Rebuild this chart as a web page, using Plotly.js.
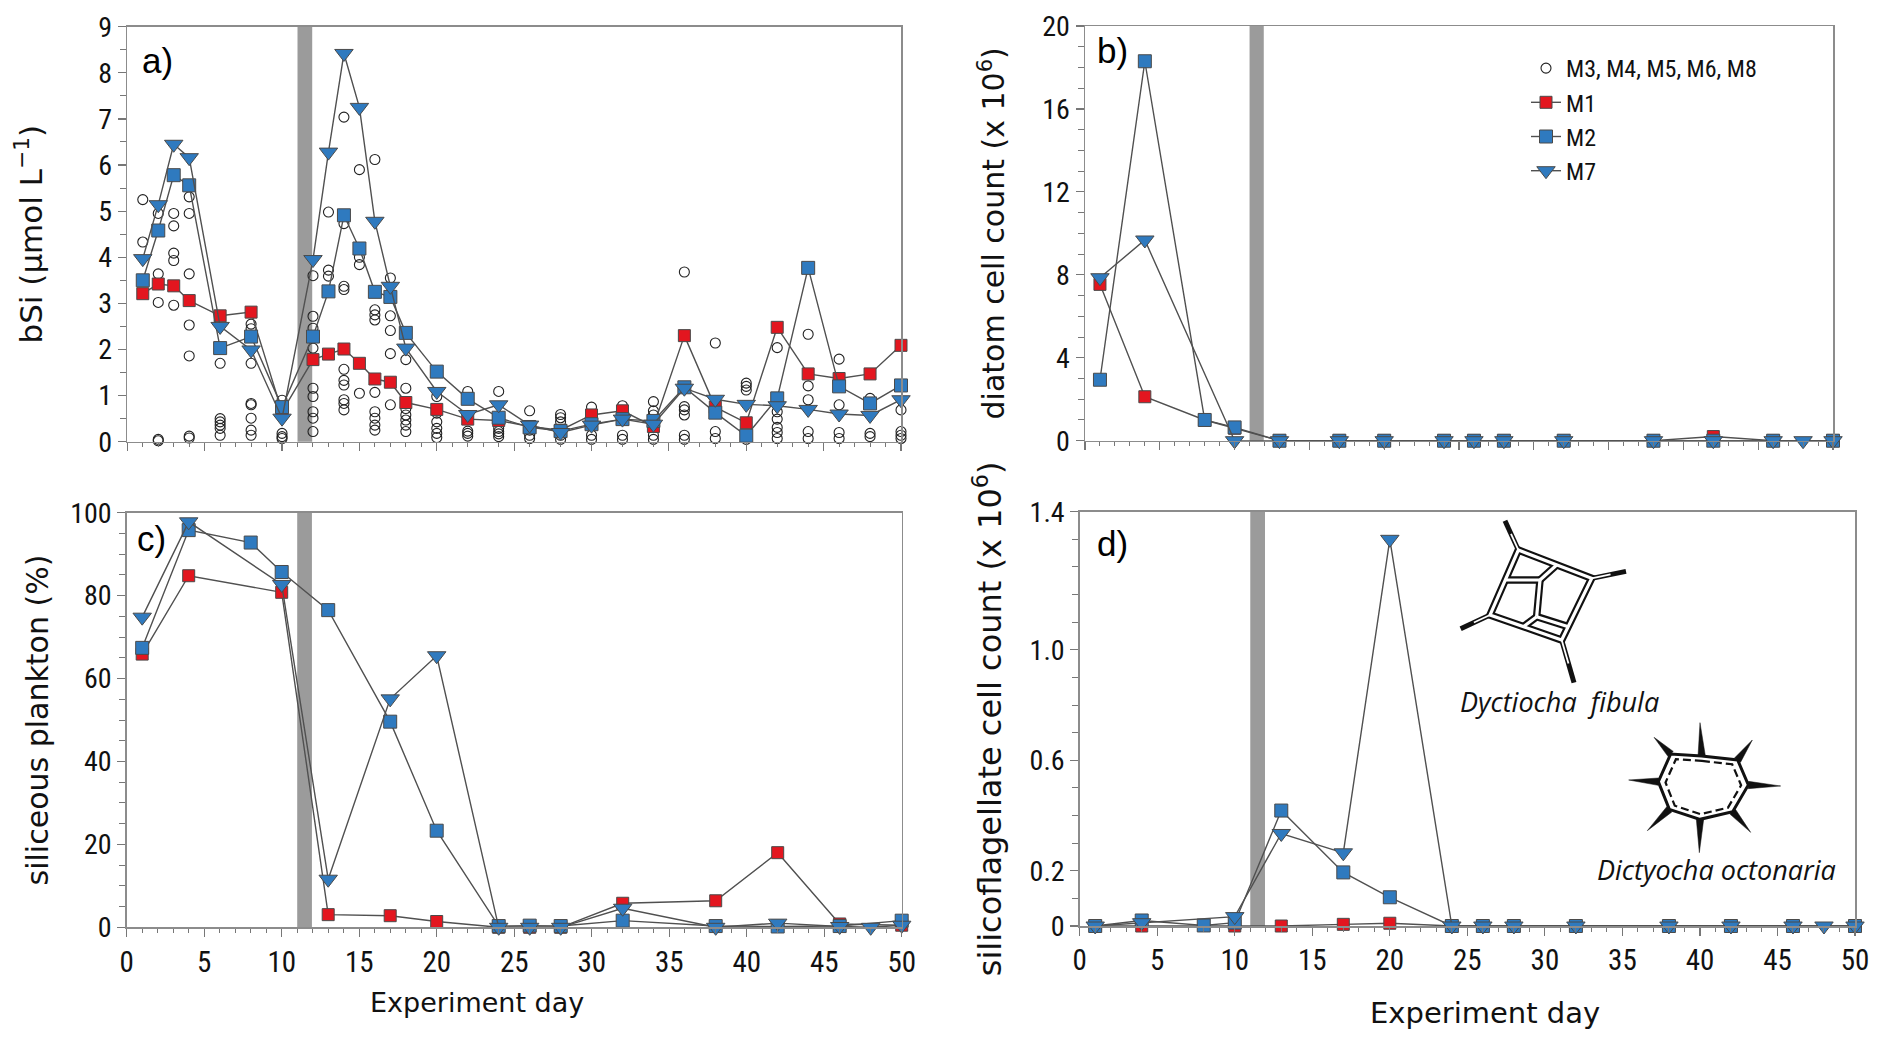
<!DOCTYPE html>
<html><head><meta charset="utf-8">
<script src="https://cdn.plot.ly/plotly-3.0.1.min.js"></script>
<style>html,body{margin:0;padding:0;background:#fff;} #chart{width:1892px;height:1052px;}</style>
</head><body><div id="chart"></div>
<script>
// ---------------- DATA ----------------
// Panel a) bSi (umol L-1)
const daysA = [1,2,3,4,6,8,10,12,13,14,15,16,17,18,20,22,24,26,28,30,32,34,36,38,40,42,44,46,48,50];
const bsiM1 = [3.21,3.42,3.38,3.06,2.73,2.81,0.65,1.78,1.90,2.01,1.70,1.36,1.29,0.85,0.70,0.49,0.46,0.33,0.25,0.58,0.67,0.33,2.30,0.75,0.41,2.48,1.47,1.37,1.47,2.09];
const bsiM2 = [3.50,4.58,5.78,5.56,2.03,2.28,0.75,2.28,3.26,4.91,4.19,3.25,3.14,2.36,1.52,0.93,0.52,0.31,0.23,0.38,0.49,0.45,1.18,0.63,0.13,0.94,3.77,1.20,0.83,1.22];
const bsiM7 = [3.97,5.14,6.45,6.16,2.50,1.99,0.51,3.95,6.28,8.42,7.25,4.78,3.37,2.03,1.09,0.59,0.80,0.36,0.20,0.36,0.49,0.38,1.16,0.92,0.81,0.78,0.70,0.60,0.57,0.91];
// other mesocosms (M3, M4, M5, M6, M8), open circles
const otherDays = [1,2,3,4,6,8,10,12,13,14,15,16,17,18,20,22,24,26,28,30,32,34,36,38,40,42,44,46,48,50];
const otherVals = [
  [5.25,4.33],
  [4.95,3.64,3.02,0.05,0.02],
  [4.95,4.68,4.09,3.93,2.96],
  [5.31,4.95,3.64,2.53,1.86,0.12,0.08],
  [1.70,0.50,0.43,0.36,0.29,0.14],
  [2.55,2.45,1.70,0.83,0.80,0.51,0.25,0.14],
  [0.90,0.18,0.11,0.07],
  [3.60,2.72,2.46,2.03,1.16,0.98,0.65,0.51,0.22],
  [4.98,3.72,3.59],
  [7.04,4.73,3.37,3.30,1.57,1.33,1.23,0.91,0.83,0.69],
  [5.90,4.00,3.84,1.05],
  [6.12,2.86,2.75,2.64,1.07,0.65,0.51,0.36,0.25],
  [3.55,2.73,2.41,1.91,0.80],
  [1.78,1.16,0.72,0.58,0.47,0.36,0.22],
  [0.98,0.62,0.43,0.29,0.18,0.09],
  [1.09,0.23,0.18,0.12],
  [1.09,0.29,0.22,0.17,0.11],
  [0.67,0.25,0.14,0.07],
  [0.59,0.52,0.43,0.14,0.05],
  [0.75,0.14,0.05],
  [0.78,0.14,0.05],
  [0.87,0.67,0.58,0.14,0.05],
  [3.68,0.76,0.69,0.58,0.14,0.05],
  [2.14,0.22,0.07],
  [1.27,1.20,1.12,0.05],
  [2.04,0.65,0.49,0.31,0.20,0.07],
  [2.33,1.21,0.91,0.22,0.07],
  [1.79,0.80,0.20,0.07],
  [0.94,0.18,0.11],
  [0.69,0.22,0.14,0.07]
];

// Panel b) diatom cell count (x 10^6)
const daysB_M1 = [1,4,8,10,13,17,20,24,26,28,32,38,42,46,50];
const daysB_M2 = [1,4,8,10,13,17,20,24,26,28,32,38,42,46,50];
const daysB_M7 = [1,4,10,13,17,20,24,26,28,32,38,42,46,48,50];
const diatomM1 = [7.54,2.12,1.0,0.6,0,0,0,0,0,0,0,0,0.2,0,0];
const diatomM2 = [2.94,18.3,1.0,0.64,0,0,0,0,0,0,0,0,0,0,0];
const diatomM7 = [7.86,9.68,0,0,0,0,0,0,0,0,0,0,0,0,0];

// Panel c) siliceous plankton (%)
const daysC_M1 = [1,4,10,13,17,20,24,26,28,32,38,42,46,50];
const daysC_M2 = [1,4,8,10,13,17,20,24,26,28,32,38,42,46,50];
const daysC_M7 = [1,4,10,13,17,20,24,26,28,32,38,42,46,48,50];
const silM1 = [65.9,84.8,80.8,3.05,2.8,1.4,0,0,0,5.8,6.4,18.0,0.8,0.5];
const silM2 = [67.4,95.8,92.8,85.7,76.5,49.6,23.3,0.3,0.4,0.3,1.6,0.3,0.2,0.3,1.6];
const silM7 = [74.8,97.8,82.7,11.6,55.1,65.5,0,0,0,4.6,0,1.0,0.2,0,0.5];

// Panel d) silicoflagellate cell count (x 10^6)
const daysD_M1 = [1,4,10,13,17,20,24,26,28,32,38,42,46,50];
const daysD_M2 = [1,4,8,10,13,17,20,24,26,28,32,38,42,46,50];
const daysD_M7 = [1,4,10,13,17,20,24,26,28,32,38,42,46,48,50];
const sfM1 = [0,0,0,0,0.006,0.01,0,0,0,0,0,0,0,0];
const sfM2 = [0,0.02,0.002,0.012,0.418,0.194,0.104,0,0,0,0,0,0,0,0];
const sfM7 = [0,0.012,0.034,0.335,0.265,1.40,0,0,0,0,0,0,0,0,0];

// tick labels
const xTickVals = [0,5,10,15,20,25,30,35,40,45,50];
const dTickVals = [0,0.2,0.6,1.0,1.5];
const dTickText = ['0','0.2','0.6','1.0','1.4'];
const legendNames = ['M3, M4, M5, M6, M8','M1','M2','M7'];

// ---------------- STYLE ----------------
const W = 1892, H = 1052;
const RED = '#e3161f', BLUE = '#2f7abf', LINE = '#505050', EDGE = '#4a4a4a';
const AXC = '#8c8c8c';
const NARROW = '"Liberation Sans Narrow", "Arial Narrow", "Roboto Condensed", sans-serif';
const TICKFONT = {family: NARROW, size: 28, color: '#111'};
const TFAM = '"DejaVu Sans", Verdana, sans-serif';

function series(x, y, name, sym, color, size, xa, ya, show) {
  return {type: 'scatter', mode: 'lines+markers', x: x, y: y, name: name,
    xaxis: xa, yaxis: ya, showlegend: show, cliponaxis: false, hoverinfo: 'skip',
    line: {color: LINE, width: 1.4},
    marker: {symbol: sym, color: color, size: size, line: {color: EDGE, width: 1}}};
}

const ox = [], oy = [];
otherDays.forEach((d, i) => otherVals[i].forEach(v => { ox.push(d); oy.push(v); }));

const SQ_R = 12, SQ_B = 13, TRI = 16;
const traces = [
  {type: 'scatter', mode: 'markers', x: ox, y: oy, name: legendNames[0], xaxis: 'x', yaxis: 'y',
   showlegend: true, cliponaxis: false, hoverinfo: 'skip',
   marker: {symbol: 'circle-open', size: 10, color: '#222', line: {width: 1.1}}},
  series(daysA, bsiM1, legendNames[1], 'square', RED, SQ_R, 'x', 'y', true),
  series(daysA, bsiM2, legendNames[2], 'square', BLUE, SQ_B, 'x', 'y', true),
  series(daysA, bsiM7, legendNames[3], 'triangle-down', BLUE, TRI, 'x', 'y', true),
  series(daysB_M1, diatomM1, 'M1', 'square', RED, SQ_R, 'x2', 'y2', false),
  series(daysB_M2, diatomM2, 'M2', 'square', BLUE, SQ_B, 'x2', 'y2', false),
  series(daysB_M7, diatomM7, 'M7', 'triangle-down', BLUE, TRI, 'x2', 'y2', false),
  series(daysC_M1, silM1, 'M1', 'square', RED, SQ_R, 'x3', 'y3', false),
  series(daysC_M2, silM2, 'M2', 'square', BLUE, SQ_B, 'x3', 'y3', false),
  series(daysC_M7, silM7, 'M7', 'triangle-down', BLUE, TRI, 'x3', 'y3', false),
  series(daysD_M1, sfM1, 'M1', 'square', RED, SQ_R, 'x4', 'y4', false),
  series(daysD_M2, sfM2, 'M2', 'square', BLUE, SQ_B, 'x4', 'y4', false),
  series(daysD_M7, sfM7, 'M7', 'triangle-down', BLUE, TRI, 'x4', 'y4', false)
];

function xAxis(domain, anchor, labels) {
  return {domain: domain, anchor: anchor, range: [0, 50], tickmode: 'array', tickvals: xTickVals,
    ticks: 'outside', ticklen: 8, tickwidth: 1.2, tickcolor: '#777',
    showticklabels: labels, tickfont: {family: NARROW, size: 29, color: '#111'},
    minor: {dtick: 1, tick0: 0, ticks: 'outside', ticklen: 4, tickwidth: 1, tickcolor: '#777'},
    showgrid: false, zeroline: false, showline: true, linecolor: AXC, linewidth: 1.5, mirror: true, fixedrange: true};
}
function yAxis(domain, anchor, range, dtick, minor, title, size, standoff) {
  return {domain: domain, anchor: anchor, range: range, tickmode: 'linear', tick0: 0, dtick: dtick,
    ticks: 'outside', ticklen: 8, tickwidth: 1.2, tickcolor: '#777', tickfont: TICKFONT,
    minor: {dtick: minor, tick0: 0, ticks: 'outside', ticklen: 6, tickwidth: 1, tickcolor: '#777'},
    showgrid: false, zeroline: false, showline: true, linecolor: AXC, linewidth: 1.5, mirror: true, fixedrange: true,
    title: {text: title, font: {family: TFAM, size: size, color: '#111'}, standoff: standoff}};
}

const px = x => x / W, py = y => 1 - y / H;

// grey bar (day 11 - 12) in each panel
const shapes = [];
[['x','y'],['x2','y2'],['x3','y3'],['x4','y4']].forEach(([xr, yr]) => {
  shapes.push({type: 'rect', xref: xr, yref: yr + ' domain', x0: 11, x1: 11.95, y0: 0, y1: 1,
    fillcolor: '#9b9b9b', line: {width: 0}, layer: 'below'});
});

// ---- decorative sketches of the two silicoflagellates (panel d) ----
const z2o = p => [1440 + p[0] / 3, 500 + p[1] / 3];
function pathOf(pts, close) {
  return pts.map((p, i) => { const q = z2o(p); return (i ? 'L' : 'M') + px(q[0]).toFixed(5) + ',' + py(q[1]).toFixed(5); }).join(' ') + (close ? ' Z' : '');
}
function lineShape(pts, close, color, width, dash) {
  return {type: 'path', xref: 'paper', yref: 'paper', path: pathOf(pts, close),
    line: {color: color, width: width, dash: dash || 'solid'}, layer: 'above'};
}
function fillShape(pts) {
  return {type: 'path', xref: 'paper', yref: 'paper', path: pathOf(pts, true),
    fillcolor: '#111', line: {color: '#111', width: 0.5}, layer: 'above'};
}
// Dyctiocha fibula
const fT = [235,150], fR = [455,235], fB = [365,420], fL = [150,345];
const fFrame = [fT, fR, fB, fL];
const fBars = [[[195,240],[300,240]], [[300,240],[350,195]], [[300,240],[290,350]], [[290,350],[250,380]], [[290,350],[385,380]]];
const fSpines = [[fT,[195,62]], [fR,[558,214]], [fB,[402,548]], [fL,[62,386]]];
fSpines.forEach(s => shapes.push(lineShape(s, false, '#111', 5)));
shapes.push(lineShape(fFrame, true, '#111', 7.5));
fBars.forEach(b => shapes.push(lineShape(b, false, '#111', 7.5)));
shapes.push(lineShape(fFrame, true, '#fff', 3.2));
fBars.forEach(b => shapes.push(lineShape(b, false, '#fff', 3.2)));
fSpines.forEach(s => {
  const a = s[0], b = s[1];
  shapes.push(lineShape([a, [a[0] + 0.55 * (b[0] - a[0]), a[1] + 0.55 * (b[1] - a[1])]], false, '#fff', 1.8));
});
// Dictyocha octonaria
const oc = [790, 860];
const oVerts = [[785,768],[893,780],[925,855],[878,935],[780,958],[688,928],[655,845],[692,762]];
const oTips = [[780,668],[937,720],[1022,858],[932,997],[778,1058],[622,992],[566,840],[642,712]];
oVerts.forEach((v, i) => {
  const t = oTips[i];
  const dx = t[0] - v[0], dy = t[1] - v[1], L = Math.hypot(dx, dy);
  const nx = -dy / L * 11, ny = dx / L * 11;
  shapes.push(fillShape([[v[0] + nx, v[1] + ny], t, [v[0] - nx, v[1] - ny]]));
});
shapes.push(lineShape(oVerts, true, '#111', 3));
const oInner = oVerts.map(v => [oc[0] + 0.84 * (v[0] - oc[0]), oc[1] + 0.84 * (v[1] - oc[1])]);
shapes.push(lineShape(oInner, true, '#111', 2.2, '8px,4px'));

// ---------------- LAYOUT ----------------
const annFont = {family: '"Liberation Sans", Arial, sans-serif', size: 35, color: '#000'};
const annotations = [
  {text: 'a)', xref: 'paper', yref: 'paper', x: px(140), y: py(61), xanchor: 'left', yanchor: 'middle', showarrow: false, font: annFont},
  {text: 'b)', xref: 'paper', yref: 'paper', x: px(1095), y: py(51), xanchor: 'left', yanchor: 'middle', showarrow: false, font: annFont},
  {text: 'c)', xref: 'paper', yref: 'paper', x: px(135), y: py(538), xanchor: 'left', yanchor: 'middle', showarrow: false, font: annFont},
  {text: 'd)', xref: 'paper', yref: 'paper', x: px(1095), y: py(543), xanchor: 'left', yanchor: 'middle', showarrow: false, font: annFont},
  {text: 'Experiment day', xref: 'paper', yref: 'paper', x: px(477), y: py(1002), xanchor: 'center', yanchor: 'middle', showarrow: false,
   font: {family: TFAM, size: 27, color: '#111'}},
  {text: 'Experiment day', xref: 'paper', yref: 'paper', x: px(1485), y: py(1013), xanchor: 'center', yanchor: 'middle', showarrow: false,
   font: {family: TFAM, size: 29, color: '#111'}},
  {text: 'Dyctiocha  fibula', xref: 'paper', yref: 'paper', x: px(1559), y: py(701), xanchor: 'center', yanchor: 'middle', showarrow: false,
   font: {family: '"Open Sans", sans-serif', size: 27, style: 'italic', color: '#111'}},
  {text: 'Dictyocha octonaria', xref: 'paper', yref: 'paper', x: px(1716), y: py(869), xanchor: 'center', yanchor: 'middle', showarrow: false,
   font: {family: '"Open Sans", sans-serif', size: 27, style: 'italic', color: '#111'}}
];

const dY = yAxis([py(926), py(511.7)], 'x4', [0, 1.5], 0.1, 0.1, 'silicoflagellate cell count (x 10<sup>6</sup>)', 32, 18);
dY.tickmode = 'array'; dY.tickvals = dTickVals; dY.ticktext = dTickText;

const layout = {
  width: W, height: H, margin: {l: 0, r: 0, t: 0, b: 0, pad: 0},
  paper_bgcolor: '#fff', plot_bgcolor: '#fff', hovermode: false,
  xaxis: xAxis([px(127.3), px(901)], 'y', false),
  yaxis: yAxis([py(441.7), py(26.7)], 'x', [0, 9], 1, 0.5, 'bSi (µmol L<sup>−1</sup>)', 31, 46),
  xaxis2: xAxis([px(1085), px(1833)], 'y2', false),
  yaxis2: yAxis([py(440.7), py(26)], 'x2', [0, 20], 4, 1, 'diatom cell count (x 10<sup>6</sup>)', 30, 28),
  xaxis3: xAxis([px(126.7), px(901.7)], 'y3', true),
  yaxis3: yAxis([py(927.3), py(512.7)], 'x3', [0, 100], 20, 5, 'siliceous plankton (%)', 30, 12),
  xaxis4: xAxis([px(1079.7), px(1855)], 'y4', true),
  yaxis4: dY,
  showlegend: true,
  legend: {x: px(1526), y: py(46), xanchor: 'left', yanchor: 'top', bgcolor: 'rgba(0,0,0,0)',
    font: {family: NARROW, size: 24, color: '#111'}, tracegroupgap: 0, itemwidth: 30, traceorder: 'normal'},
  shapes: shapes,
  annotations: annotations
};

Plotly.newPlot('chart', traces, layout, {displayModeBar: false, staticPlot: true});
</script>
</body></html>
